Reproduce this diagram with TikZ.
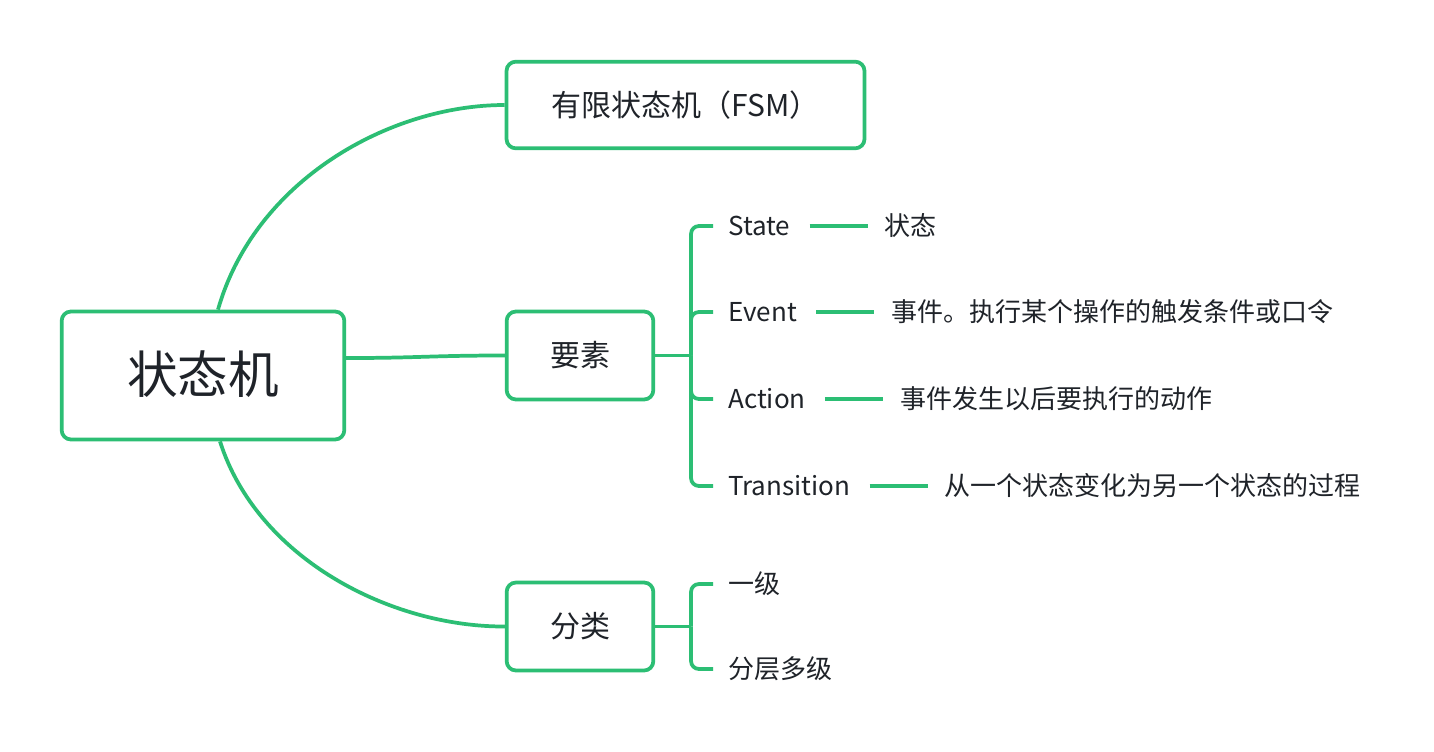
\documentclass[tikz,border=0pt]{standalone}
\usepackage{fontspec}
\setmainfont{Noto Sans CJK SC}
\usetikzlibrary{positioning}
\definecolor{mmgreen}{HTML}{2CBE74}
\definecolor{mmtext}{HTML}{1F2329}
\begin{document}
\begin{tikzpicture}[x=0.75pt,y=-0.75pt,
  box/.style={draw=mmgreen,line width=2.8pt,rounded corners=7pt,fill=white,
    text=mmtext,align=center,inner sep=0pt},
  txt/.style={text=mmtext,text height=17.2pt,text depth=2.3pt},
  lbl/.style={txt,anchor=west,inner xsep=11.25pt,inner ysep=0pt,font=\fontsize{19.5pt}{22pt}\selectfont},
  desc/.style={txt,inner xsep=11.25pt,inner ysep=0pt,font=\fontsize{19.5pt}{22pt}\selectfont},
  conn/.style={draw=mmgreen,line width=2.8pt},
  brk/.style={conn,rounded corners=6pt},
  pair/.style={conn,shorten <=3pt,shorten >=1.5pt}
]
\useasboundingbox (0,0) rectangle (1434,752);
\fill[white] (0,0) rectangle (1434,752);

% main nodes
\node[box,minimum width=212pt,minimum height=96pt,font=\fontsize{38pt}{42pt}\selectfont] (root) at (203,375.5) {\rule[-0.15em]{0pt}{0.85em}状态机};
\node[box,minimum width=268.5pt,minimum height=65pt,font=\fontsize{22.5pt}{26pt}\selectfont] (fsm) at (685.5,105) {\rule[-0.12em]{0pt}{0.88em}有限状态机（FSM）};
\node[box,minimum width=110pt,minimum height=66pt,font=\fontsize{22.5pt}{26pt}\selectfont] (ys) at (580,355.5) {\rule[-0.12em]{0pt}{0.88em}要素};
\node[box,minimum width=110pt,minimum height=66pt,font=\fontsize{22.5pt}{26pt}\selectfont] (fl) at (580,626.5) {\rule[-0.12em]{0pt}{0.88em}分类};

% connectors from root
\draw[conn] ([xshift=11.25pt]root.north) .. controls (255,180) and (390,105) .. (fsm.west);
\draw[conn] ([xshift=12.75pt]root.south) .. controls (257,558) and (390,627) .. (fl.west);
\draw[conn] ([yshift=13.1pt]root.east) .. controls (420,358) and (430,355.5) .. (ys.west);

% 要素 children
\coordinate (yj) at (691,355.5);
\node[lbl] (st) at (713,226) {State};
\node[lbl] (ev) at (713,312) {Event};
\node[lbl] (ac) at (713,399) {Action};
\node[lbl] (tr) at (713,486) {Transition};
\node[desc,right=48pt of st] (std) {状态};
\node[desc,right=48pt of ev] (evd) {事件。执行某个操作的触发条件或口令};
\node[desc,right=48pt of ac] (acd) {事件发生以后要执行的动作};
\node[desc,right=48pt of tr] (trd) {从一个状态变化为另一个状态的过程};

\draw[conn] (ys.east) -- (yj);
\draw[brk] (yj) |- (st.west);
\draw[brk] (yj) |- (ev.west);
\draw[brk] (yj) |- (ac.west);
\draw[brk] (yj) |- (tr.west);
\draw[pair] (st) -- (std);
\draw[pair] (ev) -- (evd);
\draw[pair] (ac) -- (acd);
\draw[pair] (tr) -- (trd);

% 分类 children
\coordinate (fj) at (691,626.5);
\node[lbl] (yj1) at (713,584) {一级};
\node[lbl] (fc) at (713,669) {分层多级};
\draw[conn] (fl.east) -- (fj);
\draw[brk] (fj) |- (yj1.west);
\draw[brk] (fj) |- (fc.west);
\end{tikzpicture}
\end{document}
